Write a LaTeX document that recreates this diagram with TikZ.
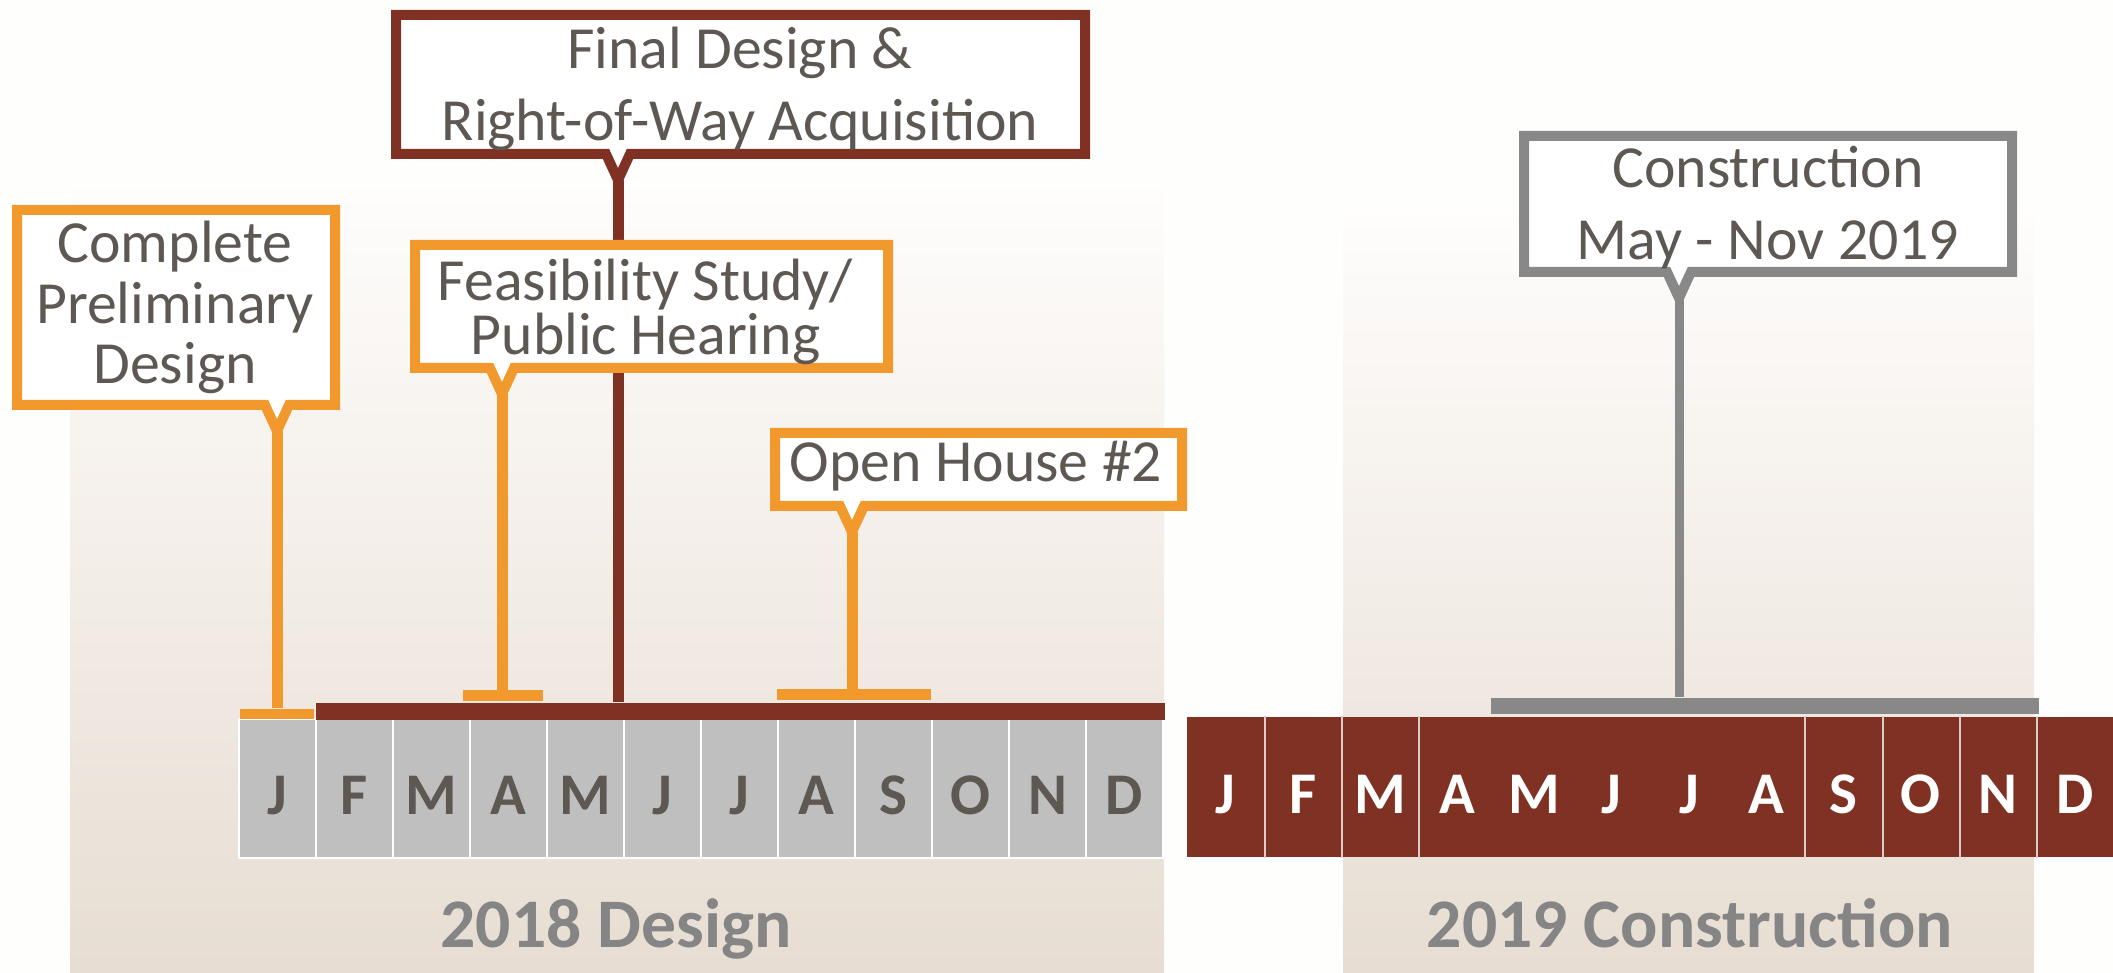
\documentclass[tikz,border=0pt]{standalone}
\usepackage{fontspec}
\setmainfont{Carlito}
\definecolor{brownc}{RGB}{127,50,35}
\definecolor{orangec}{RGB}{242,153,45}
\definecolor{greyc}{RGB}{136,136,136}
\definecolor{ink}{RGB}{94,88,83}
\definecolor{cellc}{RGB}{191,191,191}
\definecolor{titlec}{RGB}{133,133,133}
\definecolor{panetop}{RGB}{254,253,252}
\definecolor{panebot}{RGB}{231,221,210}
\definecolor{bgc}{RGB}{254,254,252}
% callout box: colour, left, top, right, bottom, pointer x, tip name
\newcommand{\notebox}[7]{%
	\draw[#1, line width=1mm, fill=white] (#2,#3)--(#4,#3)--(#4,#5)--(#6+12,#5)--(#6,#5+26)--(#6-12,#5)--(#2,#5)--cycle;
	\coordinate (#7) at (#6,#5+26);}
\begin{document}
\begin{tikzpicture}[x=0.1mm, y=-0.1mm, line join=miter,
	lbl/.style={font=\fontsize{17}{20.5}\selectfont, text=ink, align=center, inner sep=0pt},
	ttl/.style={font=\fontsize{19.8}{24}\selectfont\bfseries, text=titlec, anchor=base},
	dcell/.style={fill=cellc, draw=white, line width=0.25mm, text=ink, font=\fontsize{16.8}{20}\selectfont\bfseries,
		minimum width=7.7mm, minimum height=13.9mm, text height=15pt, text depth=0pt, inner sep=0pt},
	ccell/.style={fill=brownc, text=white, font=\fontsize{16.8}{20}\selectfont\bfseries,
		minimum width=7.72mm, minimum height=14mm, text height=15pt, text depth=0pt, inner sep=0pt},
	bar/.style={inner sep=0pt, minimum height=1.05mm},
	stem/.style={line width=1.1mm}]
	\useasboundingbox (0,0) rectangle (2113,973);
	\fill[bgc] (0,0) rectangle (2113,973);
	
	% panels
	\shade[top color=panetop, bottom color=panebot] (70,190) rectangle (1164,973);
	\shade[top color=panetop, bottom color=panebot] (1343,215) rectangle (2034,973);
	\node[ttl] (y18) at (616,948) {2018 Design};
	\node[ttl] (y19) at (1690,948) {2019 Construction};
	
	% months
	\foreach \m [count=\i] in {J,F,M,A,M,J,J,A,S,O,N,D}{
		\node[dcell] (d\i) at ({239+77*(\i-0.5)},788.5) {\m};
		\node[ccell] (c\i) at ({1187+77.2*(\i-0.5)},787) {\m};
	}
	\foreach \i in {1,2,3,8,9,10,11}
	\draw[white!75!brownc, line width=0.2mm] (c\i.north east)--(c\i.south east);
	
	% bars
	\node[bar, fill=brownc, minimum width=84.9mm, minimum height=1.7mm] (dbar) at (740.5,711.5) {};
	\node[bar, fill=orangec, minimum width=7.4mm] (cbar) at (277,714) {};
	\node[bar, fill=orangec, minimum width=8mm] (fbar) at (503,695.5) {};
	\node[bar, fill=orangec, minimum width=15.4mm] (obar) at (854,694.5) {};
	\node[bar, fill=greyc, minimum width=54.8mm, minimum height=1.6mm] (gbar) at (1765,706) {};
	
	% callouts
	\notebox{brownc}{396}{15}{1085}{154}{618}{fdtip}
	\node[lbl] (fd) at (740,88.5) {Final Design \&\\Right-of-Way Acquisition};
	\draw[stem, brownc] (fdtip)--(fdtip |- dbar.north);
	
	\notebox{greyc}{1524}{136}{2012}{272}{1679}{cntip}
	\node[lbl] (cn) at (1768,208) {Construction\\May - Nov 2019};
	\draw[stem, greyc, line width=0.9mm] (cntip)--(cntip |- gbar.north);
	
	\notebox{orangec}{17}{210}{335}{405}{277}{cptip}
	\node[lbl] (cp) at (175,307.5) {Complete\\[-3.4pt]Preliminary\\[-3.4pt]Design};
	\draw[stem, orangec] (cptip)--(cptip |- cbar.north);
	
	\notebox{orangec}{415}{245}{888}{368}{502}{fstip}
	\node[lbl] (fs) at (645.5,312) {Feasibility Study/\\[-5pt]Public Hearing};
	\draw[stem, orangec] (fstip)--(fstip |- fbar.north);
	
	\notebox{orangec}{775}{433}{1182}{506}{852}{ohtip}
	\node[lbl, anchor=base] (oh) at (976,482) {Open House \#2};
	\draw[stem, orangec] (ohtip)--(ohtip |- obar.north);
\end{tikzpicture}
\end{document}
